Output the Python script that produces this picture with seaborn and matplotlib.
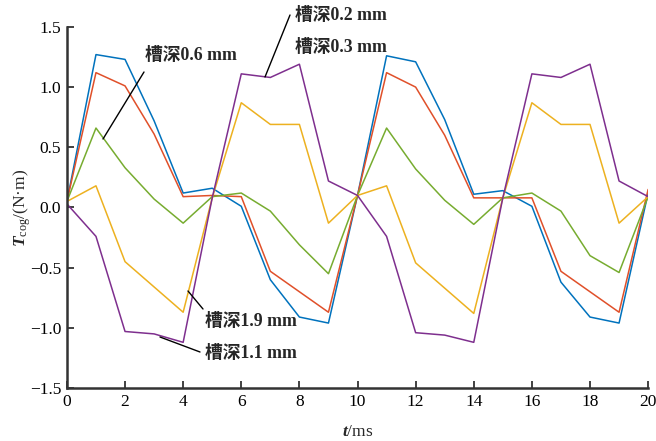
import numpy as np
import pandas as pd
import matplotlib
matplotlib.use("Agg")
import matplotlib.pyplot as plt
import seaborn as sns

# time axis, ms
t_ms = list(range(21))

# cogging torque per slot depth, N·m
depth_02 = [0.05, 1.27, 1.23, 0.72, 0.12, 0.16, 0.01, -0.60, -0.91, -0.96, 0.10,
            1.26, 1.21, 0.73, 0.11, 0.14, 0.01, -0.62, -0.91, -0.96, 0.12]
depth_03 = [0.05, 1.12, 1.01, 0.61, 0.09, 0.10, 0.09, -0.53, -0.70, -0.87, 0.10,
            1.12, 1.00, 0.60, 0.08, 0.08, 0.08, -0.53, -0.70, -0.87, 0.15]
depth_06 = [0.05, 0.66, 0.33, 0.07, -0.13, 0.09, 0.12, -0.03, -0.31, -0.55, 0.10,
            0.66, 0.32, 0.06, -0.14, 0.08, 0.12, -0.03, -0.40, -0.54, 0.09]
depth_19 = [0.05, 0.18, -0.45, -0.66, -0.87, 0.08, 0.87, 0.69, 0.69, -0.13, 0.10,
            0.18, -0.46, -0.67, -0.88, 0.08, 0.87, 0.69, 0.69, -0.13, 0.09]
depth_11 = [0.03, -0.24, -1.03, -1.05, -1.12, 0.08, 1.11, 1.08, 1.19, 0.22, 0.10,
            -0.24, -1.04, -1.06, -1.12, 0.08, 1.11, 1.08, 1.19, 0.22, 0.09]

series_names = ["0.2", "0.3", "0.6", "1.9", "1.1"]
series_vals = [depth_02, depth_03, depth_06, depth_19, depth_11]
colors = ["#0072BD", "#E0502A", "#77AC30", "#EDB120", "#7E2F8E"]

x_ticks = list(range(0, 21, 2))
y_ticks = [-1.5, -1.0, -0.5, 0.0, 0.5, 1.0, 1.5]

df = pd.concat([pd.DataFrame({"t": t_ms, "T": v, "depth": n})
                for n, v in zip(series_names, series_vals)])

sns.set_style("ticks")
plt.rcParams["font.family"] = ["Liberation Serif", "Noto Sans CJK SC"]
plt.rcParams["mathtext.fontset"] = "custom"
plt.rcParams["mathtext.rm"] = "Liberation Serif"
plt.rcParams["mathtext.it"] = "Liberation Serif:italic:bold"

fig = plt.figure(figsize=(6.56, 4.41), dpi=100)
ax = fig.add_axes([0.102, 0.120, 0.886, 0.819])

sns.lineplot(data=df, x="t", y="T", hue="depth", palette=colors,
             linewidth=1.1, legend=False, ax=ax)

ax.set_xlim(0, 20)
ax.set_ylim(-1.5, 1.5)
ax.set_xticks(x_ticks)
ax.set_yticks(y_ticks)
ax.set_xticklabels([str(v) for v in x_ticks])
ax.set_yticklabels([f"{v:.1f}".replace("-", "\u2212") for v in y_ticks])
ax.tick_params(direction="in", length=5, width=1.3, colors="#333333",
               labelsize=12.5, labelcolor="black", pad=4,
               bottom=True, left=True, top=False, right=False)
for s in ["top", "right"]:
    ax.spines[s].set_visible(False)
for s in ["left", "bottom"]:
    ax.spines[s].set_linewidth(1.8)
    ax.spines[s].set_color("#333333")

ax.set_xlabel(r"$\mathit{t}$/ms", fontsize=12.5, labelpad=10)
ax.set_ylabel(r"$\mathit{T}_{\mathrm{cog}}$/(N·m)", fontsize=12.5, labelpad=-2)

def fig_to_data(px, py):
    return ax.transData.inverted().transform(
        fig.transFigure.transform((px / 656, 1 - py / 441)))

labels = [
    ("槽深0.2 mm", (295, 15), (290, 15), (265, 77)),
    ("槽深0.3 mm", (295, 47), None, None),
    ("槽深0.6 mm", (145, 55), (144, 72), (103, 139)),
    ("槽深1.9 mm", (205, 322), (203, 309), (188, 291)),
    ("槽深1.1 mm", (205, 353), (200, 352), (160, 337)),
]
for txt, pos, p0, p1 in labels:
    x, y = fig_to_data(*pos)
    ax.text(x, y, txt, fontsize=12.8, fontweight="bold", va="center",
            ha="left", clip_on=False)
    if p0 is not None:
        a = fig_to_data(*p0)
        b = fig_to_data(*p1)
        ax.plot([a[0], b[0]], [a[1], b[1]], color="black", lw=1.0,
                clip_on=False)

fig.savefig("out.png", dpi=100)
